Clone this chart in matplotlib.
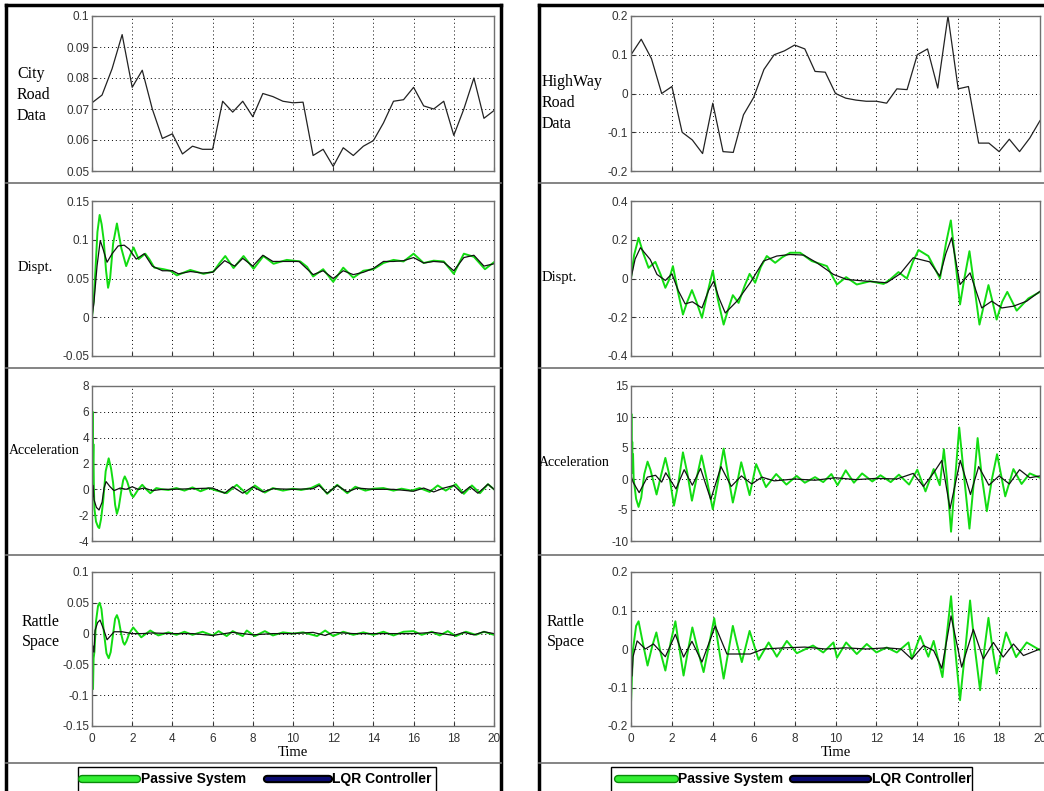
import numpy as np
import matplotlib
matplotlib.use("Agg")
import matplotlib.pyplot as plt
from matplotlib.lines import Line2D
from matplotlib.patches import Rectangle
from matplotlib.ticker import FuncFormatter

W, H = 1044, 791

# ---- road profiles (sampled every 0.5 s) ----
road_t = np.arange(0, 20.5, 0.5)
city_road = [0.072, 0.0745, 0.083, 0.094, 0.077, 0.0825, 0.070, 0.0605, 0.062, 0.0555,
             0.058, 0.057, 0.057, 0.0725, 0.069, 0.0725, 0.0675, 0.075, 0.074, 0.0725,
             0.072, 0.0722, 0.055, 0.057, 0.0515, 0.0575, 0.055, 0.058, 0.0598, 0.0655,
             0.0725, 0.073, 0.077, 0.071, 0.070, 0.0725, 0.0615, 0.070, 0.080, 0.067, 0.0695]
highway_road = [0.10, 0.14, 0.09, 0.0, 0.018, -0.10, -0.12, -0.155, -0.025, -0.15,
                -0.152, -0.055, -0.01, 0.062, 0.10, 0.11, 0.125, 0.115, 0.057, 0.055,
                0.0, -0.012, -0.017, -0.02, -0.02, -0.025, 0.012, 0.01, 0.10, 0.115,
                0.014, 0.20, 0.012, 0.018, -0.128, -0.128, -0.15, -0.118, -0.15, -0.115, -0.07]

# ---- city responses: (time, value) ----
city_disp_passive = [(0, 0), (0.08, 0.02), (0.17, 0.06), (0.27, 0.11), (0.38, 0.132), (0.48, 0.12),
                     (0.58, 0.10), (0.7, 0.06), (0.8, 0.038), (0.9, 0.05), (1.05, 0.095), (1.24, 0.121),
                     (1.46, 0.089), (1.7, 0.066), (1.9, 0.08), (2.07, 0.09), (2.32, 0.075), (2.65, 0.082),
                     (2.85, 0.075), (3.1, 0.064), (3.56, 0.062), (3.9, 0.06), (4.22, 0.054), (4.6, 0.058),
                     (4.89, 0.061), (5.55, 0.056), (6.05, 0.059), (6.35, 0.07), (6.63, 0.079), (7.04, 0.0635),
                     (7.54, 0.079), (8.04, 0.0625), (8.53, 0.079), (9.03, 0.069), (9.69, 0.074), (10.36, 0.072),
                     (10.7, 0.065), (11.0, 0.0526), (11.5, 0.062), (12.0, 0.0457), (12.5, 0.064), (13.0, 0.051),
                     (13.5, 0.06), (14.0, 0.062), (14.5, 0.07), (15.0, 0.074), (15.5, 0.072), (16.0, 0.082),
                     (16.5, 0.07), (17.0, 0.073), (17.5, 0.072), (18.0, 0.056), (18.5, 0.082), (19.0, 0.078),
                     (19.55, 0.062), (20, 0.071)]
city_disp_lqr = [(0, 0), (0.1, 0.02), (0.25, 0.066), (0.41, 0.099), (0.55, 0.088), (0.75, 0.071),
                 (1.0, 0.082), (1.3, 0.092), (1.6, 0.093), (1.85, 0.088), (2.2, 0.075), (2.6, 0.082),
                 (3.0, 0.066), (3.5, 0.06), (4.0, 0.06), (4.3, 0.056), (4.9, 0.059), (5.5, 0.057),
                 (6.0, 0.058), (6.6, 0.073), (7.1, 0.066), (7.5, 0.076), (8.0, 0.066), (8.5, 0.08),
                 (9.0, 0.072), (10.3, 0.072), (11.0, 0.055), (11.5, 0.06), (12.0, 0.05), (12.5, 0.06),
                 (13.0, 0.055), (13.5, 0.058), (14.0, 0.063), (14.5, 0.072), (15.0, 0.072), (15.5, 0.073),
                 (16.0, 0.077), (16.5, 0.07), (17.0, 0.072), (17.5, 0.071), (18.0, 0.06), (18.5, 0.077),
                 (19.0, 0.08), (19.5, 0.066), (20, 0.069)]
city_acc_passive = [(0, 7.8), (0.01, 3), (0.03, 6), (0.05, 2), (0.07, 3.5), (0.09, 0.5), (0.12, -1.5),
                    (0.2, -2.5), (0.3, -2.9), (0.36, -3.0), (0.45, -2.3), (0.55, -1.0), (0.68, 1.4),
                    (0.83, 2.4), (0.95, 1.6), (1.05, 0.5), (1.15, -1.2), (1.24, -1.9), (1.33, -1.4),
                    (1.45, -0.2), (1.55, 0.7), (1.63, 1.0), (1.75, 0.6), (1.85, 0.1), (1.95, -0.4),
                    (2.05, -0.6), (2.18, -0.3), (2.3, 0.0), (2.5, 0.35), (2.7, 0.0), (2.9, -0.3),
                    (3.2, 0.1), (3.5, 0.0), (3.8, -0.05), (4.2, 0.1), (4.6, -0.1), (5.0, 0.15), (5.4, -0.15),
                    (5.8, 0.1), (6.2, -0.1), (6.7, -0.3), (7.2, 0.35), (7.7, -0.35), (8.1, 0.3),
                    (8.6, -0.25), (9.0, 0.1), (9.5, -0.1), (10.0, 0.05), (10.4, -0.05), (10.9, 0.1),
                    (11.3, 0.4), (11.7, -0.35), (12.2, 0.35), (12.7, -0.3), (13.1, 0.2), (13.6, -0.1),
                    (14.0, 0.05), (14.5, 0.1), (15.0, -0.1), (15.4, 0.05), (15.9, -0.1), (16.3, 0.1),
                    (16.8, -0.2), (17.2, 0.3), (17.6, -0.1), (18.1, 0.4), (18.5, -0.35), (18.9, 0.3),
                    (19.3, -0.3), (19.7, 0.4), (20, 0.0)]
city_acc_lqr = [(0, 0), (0.03, -0.6), (0.06, 0.3), (0.1, -0.8), (0.22, -1.4), (0.35, -1.6), (0.5, -1.0),
                (0.6, 0.1), (0.7, 0.6), (0.9, 0.2), (1.1, -0.1), (1.4, 0.1), (1.7, 0.0), (2.0, 0.2),
                (2.3, 0.0), (2.6, 0.1), (3.0, -0.1), (3.5, 0.0), (4.0, 0.0), (5.0, 0.05), (6.0, 0.1),
                (6.6, -0.3), (7.0, 0.2), (7.5, -0.3), (8.0, 0.2), (8.5, -0.2), (9.0, 0.05), (10.0, 0.0),
                (11.0, 0.05), (11.3, 0.3), (11.7, -0.3), (12.2, 0.3), (12.7, -0.2), (13.2, 0.1),
                (14.0, 0.0), (15.0, 0.0), (16.0, -0.15), (16.5, 0.1), (17.0, -0.2), (17.5, 0.1),
                (18.0, 0.3), (18.4, -0.3), (18.8, 0.2), (19.2, -0.3), (19.7, 0.4), (20, 0.0)]
city_rattle_passive = [(0, -0.1), (0.02, -0.06), (0.05, -0.09), (0.08, -0.04), (0.12, -0.03), (0.2, 0.02),
                       (0.3, 0.045), (0.38, 0.05), (0.47, 0.04), (0.6, 0.0), (0.72, -0.032), (0.83, -0.04),
                       (0.93, -0.03), (1.05, 0.0), (1.15, 0.024), (1.24, 0.03), (1.33, 0.022), (1.45, 0.0),
                       (1.55, -0.014), (1.62, -0.018), (1.72, -0.012), (1.85, 0.0), (2.05, 0.01),
                       (2.45, -0.006), (2.9, 0.005), (3.3, -0.003), (3.8, 0.002), (4.2, -0.002),
                       (4.6, 0.003), (5.0, -0.002), (5.5, 0.003), (6.0, -0.003), (6.3, 0.004), (6.7, -0.004),
                       (7.0, 0.004), (7.5, -0.004), (7.7, 0.005), (8.1, -0.004), (8.6, 0.004), (9.0, -0.003),
                       (9.5, 0.002), (10.0, 0.0), (10.5, 0.002), (11.2, -0.004), (11.6, 0.005),
                       (12.0, -0.004), (12.5, 0.003), (13.0, -0.002), (13.5, 0.002), (14.0, -0.002),
                       (14.5, 0.003), (15.0, -0.003), (15.5, 0.003), (16.0, 0.004), (16.4, -0.002),
                       (16.9, 0.003), (17.3, -0.003), (17.7, 0.004), (18.1, -0.004), (18.6, 0.003),
                       (19.1, -0.002), (19.5, 0.003), (20, -0.002)]
city_rattle_lqr = [(0, -0.05), (0.05, -0.02), (0.1, -0.03), (0.15, 0.005), (0.28, 0.018), (0.4, 0.022),
                   (0.6, 0.005), (0.75, -0.01), (1.1, 0.003), (1.5, 0.003), (2.0, 0.0), (2.5, 0.0),
                   (3.0, 0.001), (4, 0), (5, 0), (6.0, -0.003), (7.0, 0.002), (8.0, -0.002), (9.0, 0.0),
                   (10.0, 0.0), (11.0, 0.002), (11.6, -0.003), (12.0, 0.002), (13.0, 0.0), (14.0, 0.0),
                   (15.0, 0.0), (16.0, 0.0), (17.0, 0.002), (18.0, -0.003), (18.5, 0.002), (19.0, -0.002),
                   (19.5, 0.003), (20, 0.0)]

# ---- highway responses ----
hw_disp_passive = [(0, 0), (0.15, 0.12), (0.37, 0.21), (0.6, 0.13), (0.86, 0.055), (1.19, 0.086),
                   (1.45, 0.02), (1.68, -0.048), (1.85, -0.01), (2.05, 0.064), (2.3, -0.07),
                   (2.54, -0.186), (2.75, -0.12), (2.98, -0.06), (3.2, -0.12), (3.47, -0.203),
                   (3.75, -0.07), (4.0, 0.041), (4.25, -0.11), (4.53, -0.238), (4.75, -0.16),
                   (4.98, -0.086), (5.26, -0.126), (5.55, -0.04), (5.8, 0.024), (6.07, -0.022),
                   (6.35, 0.06), (6.64, 0.116), (7.05, 0.081), (7.4, 0.11), (7.78, 0.133), (8.27, 0.133),
                   (8.84, 0.09), (9.58, 0.064), (10.07, -0.031), (10.52, 0.007), (11.04, -0.031),
                   (11.7, -0.014), (12.35, -0.028), (12.67, -0.005), (13.08, 0.033), (13.49, 0.0),
                   (13.8, 0.09), (14.06, 0.147), (14.54, 0.116), (15.11, 0.0), (15.4, 0.18), (15.64, 0.30),
                   (15.85, 0.1), (16.09, -0.134), (16.3, 0.0), (16.55, 0.141), (16.8, -0.05),
                   (17.04, -0.238), (17.25, -0.14), (17.48, -0.034), (17.68, -0.12), (17.88, -0.212),
                   (18.15, -0.12), (18.4, -0.069), (18.86, -0.166), (19.43, -0.103), (20, -0.069)]
hw_disp_lqr = [(0, 0), (0.2, 0.1), (0.46, 0.159), (0.94, 0.098), (1.27, 0.021), (1.68, -0.01), (2.0, 0.024),
               (2.3, -0.06), (2.65, -0.131), (3.0, -0.12), (3.47, -0.152), (3.8, -0.06), (4.04, -0.014),
               (4.3, -0.1), (4.61, -0.178), (5.18, -0.117), (5.83, -0.022), (6.48, 0.09), (7.13, 0.116),
               (7.78, 0.124), (8.44, 0.121), (9.09, 0.081), (9.9, 0.021), (10.55, -0.005),
               (11.53, -0.014), (12.5, -0.022), (13.16, 0.024), (13.8, 0.107), (14.6, 0.086),
               (15.1, 0.012), (15.4, 0.13), (15.68, 0.21), (15.9, 0.08), (16.09, -0.031),
               (16.58, 0.029), (17.15, -0.152), (17.64, -0.117), (18.13, -0.152), (18.7, -0.143),
               (19.35, -0.117), (20, -0.066)]
hw_acc_passive = [(0, 0.5), (0.02, 10.5), (0.04, 2), (0.06, 6), (0.08, 1), (0.1, 4), (0.13, 0),
                  (0.25, -3.2), (0.37, -4.5), (0.5, -3.0), (0.65, 0.8), (0.81, 2.8), (0.95, 1.5),
                  (1.25, -2.5), (1.5, 1.0), (1.68, 3.4), (1.85, 1.0), (2.1, -4.3), (2.3, -1.0),
                  (2.54, 4.3), (2.75, 1.0), (2.98, -3.5), (3.2, 0.0), (3.45, 3.8), (3.7, 0.0),
                  (4.0, -4.9), (4.25, -0.5), (4.53, 4.9), (4.75, 0.5), (4.98, -3.8), (5.2, -0.5),
                  (5.39, 2.7), (5.6, 0.0), (5.8, -2.6), (6.12, 2.4), (6.6, -1.3), (7.1, 0.8),
                  (7.6, -0.9), (8.1, 0.5), (8.5, -0.6), (9.0, 0.3), (9.4, -0.5), (9.8, 0.8),
                  (10.1, -1.0), (10.5, 1.4), (10.9, -0.6), (11.3, 0.9), (11.8, -0.4), (12.2, 0.6),
                  (12.7, -0.5), (13.1, 0.7), (13.6, -0.9), (14.0, 1.5), (14.4, -2.0), (14.8, 1.6),
                  (15.1, -1.0), (15.3, 4.8), (15.45, 0.0), (15.65, -8.5), (15.85, 0.0), (16.05, 8.3),
                  (16.3, 0.0), (16.55, -8.0), (16.75, -1.0), (16.95, 6.6), (17.15, 0.5), (17.4, -5.2),
                  (17.65, 0.0), (17.9, 4.0), (18.3, -2.8), (18.7, 1.6), (19.1, -0.8), (19.5, 0.9),
                  (20, 0.2)]
hw_acc_lqr = [(0, 0.5), (0.1, -0.5), (0.4, -2.2), (0.8, 0.3), (1.2, 0.6), (1.5, -0.5), (1.7, 1.0),
              (2.2, -1.6), (2.6, 1.5), (3.0, -1.0), (3.4, 1.7), (3.9, -3.3), (4.4, 2.0), (4.9, -1.2),
              (5.4, 0.5), (5.9, -0.8), (6.4, 0.3), (7.0, -0.3), (8.0, 0.0), (9.0, -0.2), (10.0, 0.2),
              (11.0, -0.1), (12.0, 0.1), (13.0, 0.0), (13.8, 0.9), (14.3, -1.2), (14.8, 1.0),
              (15.2, 3.0), (15.6, -4.8), (16.1, 3.0), (16.6, -2.5), (17.0, 2.0), (17.5, -1.0),
              (18.0, 0.5), (18.5, -0.8), (19.0, 1.5), (19.5, 0.2), (20, 0.5)]
hw_rattle_passive = [(0, -0.14), (0.1, 0.0), (0.25, 0.06), (0.37, 0.072), (0.6, 0.01), (0.81, -0.043),
                     (1.05, 0.01), (1.24, 0.043), (1.45, -0.01), (1.68, -0.056), (1.95, 0.02),
                     (2.17, 0.072), (2.37, 0.0), (2.57, -0.069), (2.8, 0.0), (3.0, 0.056), (3.3, -0.01),
                     (3.55, -0.06), (3.85, 0.02), (4.07, 0.08), (4.3, 0.0), (4.53, -0.077), (4.75, -0.01),
                     (4.98, 0.06), (5.2, 0.01), (5.42, -0.034), (5.8, 0.047), (6.24, -0.028),
                     (6.73, 0.017), (7.13, -0.02), (7.62, 0.021), (8.11, -0.011), (8.9, 0.009),
                     (9.4, -0.009), (9.9, 0.017), (10.07, -0.023), (10.52, 0.017), (11.04, -0.013),
                     (11.53, 0.013), (12.0, -0.009), (12.5, 0.004), (13.0, -0.009), (13.57, 0.017),
                     (13.73, -0.026), (14.14, 0.034), (14.54, -0.02), (14.8, 0.021), (15.23, -0.073),
                     (15.45, 0.04), (15.65, 0.137), (15.85, 0.0), (16.09, -0.133), (16.35, 0.0),
                     (16.58, 0.126), (16.82, 0.0), (17.07, -0.107), (17.28, 0.0), (17.48, 0.081),
                     (17.68, 0.0), (17.88, -0.064), (18.34, 0.043), (18.83, -0.021), (19.35, 0.017),
                     (20, -0.003)]
hw_rattle_lqr = [(0, -0.056), (0.05, -0.07), (0.1, -0.02), (0.3, 0.021), (0.7, 0.0), (1.1, 0.013),
                 (1.68, -0.02), (2.17, 0.038), (2.57, -0.021), (2.98, 0.02), (3.47, -0.034),
                 (4.12, 0.06), (4.69, -0.013), (5.18, -0.013), (5.83, -0.013), (6.48, 0.0),
                 (7.5, 0.003), (8.5, 0.005), (9.5, 0.0), (10.5, 0.003), (11.5, 0.0), (12.5, 0.003),
                 (13.2, 0.0), (13.73, -0.026), (14.3, 0.009), (14.8, -0.004), (15.2, -0.05),
                 (15.65, 0.086), (16.17, -0.047), (16.74, 0.051), (17.23, -0.026), (17.72, 0.017),
                 (18.2, -0.021), (18.7, 0.013), (19.19, -0.017), (20, 0.0)]

# ---- axis limits / ticks per row ----
city_ylims = [(0.05, 0.1), (-0.05, 0.15), (-4, 8), (-0.15, 0.1)]
city_yticks = [np.arange(0.05, 0.101, 0.01), np.arange(-0.05, 0.151, 0.05),
               np.arange(-4, 8.1, 2), np.arange(-0.15, 0.101, 0.05)]
hw_ylims = [(-0.2, 0.2), (-0.4, 0.4), (-10, 15), (-0.2, 0.2)]
hw_yticks = [np.arange(-0.2, 0.21, 0.1), np.arange(-0.4, 0.41, 0.2),
             np.arange(-10, 15.1, 5), np.arange(-0.2, 0.21, 0.1)]
city_labels = ["City\nRoad\nData", "Dispt.", "Acceleration", "Rattle\nSpace"]
hw_labels = ["HighWay\nRoad\nData", "Dispt.", "Acceleration", "Rattle\nSpace"]
# (left edge x, centre y, font size) of each row label, in pixels
city_label_pos = [(17, 95, 11.5), (18, 268, 10.5), (9, 450, 10), (22, 632, 11.5)]
hw_label_pos = [(542, 103, 11.5), (542, 277, 10.5), (539, 463, 10), (547, 632, 11.5)]
xticks = np.arange(0, 21, 2)

GREEN = "#12dc12"
DARK = "#111111"
SERIF = "Liberation Serif"
SANS = "Liberation Sans"

fig = plt.figure(figsize=(W / 100, H / 100), dpi=100)
fig.patch.set_facecolor("white")


def rect(x0, y0, x1, y1):
    return [x0 / W, 1 - y1 / H, (x1 - x0) / W, (y1 - y0) / H]


def fx(x):
    return x / W


def fy(y):
    return 1 - y / H


def fmt(v, pos):
    return "%g" % round(v, 4)


rows = [(16, 171), (201, 356), (386, 541), (572, 726)]


def make_col(x0, x1, ylims, yticks, labels, label_pos, series):
    axes = []
    for i, (y0, y1) in enumerate(rows):
        ax = fig.add_axes(rect(x0, y0, x1, y1))
        ax.set_xlim(0, 20)
        ax.set_ylim(*ylims[i])
        ax.set_xticks(xticks)
        ax.set_yticks(yticks[i])
        ax.yaxis.set_major_formatter(FuncFormatter(fmt))
        ax.grid(True, linestyle=(0, (1, 3)), color="black", linewidth=0.7)
        ax.tick_params(direction="in", length=3, labelsize=8.5, colors="#333333")
        ax.tick_params(axis="x", pad=5)
        ax.tick_params(axis="y", pad=2)
        for lab in ax.get_xticklabels() + ax.get_yticklabels():
            lab.set_fontfamily(SANS)
        for sp in ax.spines.values():
            sp.set_color("#707070")
            sp.set_linewidth(1.0)
        if i < 3:
            ax.set_xticklabels([])
        else:
            ax.set_xlabel("Time", fontfamily=SERIF, fontsize=10.5, labelpad=1)
        lx, ly, fs = label_pos[i]
        fig.text(fx(lx), fy(ly), labels[i], ha="left", va="center", multialignment="left",
                 fontfamily=SERIF, fontsize=fs, linespacing=1.38)
        axes.append(ax)

    axes[0].plot(road_t, series[0], color="#222222", lw=0.9)
    for ax, (pas, lqr) in zip(axes[1:], series[1:]):
        p = np.array(pas).T
        q = np.array(lqr).T
        ax.plot(p[0], p[1], color=GREEN, lw=1.4, solid_joinstyle="round")
        ax.plot(q[0], q[1], color=DARK, lw=0.9, solid_joinstyle="round")
    return axes


make_col(92, 494, city_ylims, city_yticks, city_labels, city_label_pos,
         [city_road,
          (city_disp_passive, city_disp_lqr),
          (city_acc_passive, city_acc_lqr),
          (city_rattle_passive, city_rattle_lqr)])
make_col(631, 1040, hw_ylims, hw_yticks, hw_labels, hw_label_pos,
         [highway_road,
          (hw_disp_passive, hw_disp_lqr),
          (hw_acc_passive, hw_acc_lqr),
          (hw_rattle_passive, hw_rattle_lqr)])


# ---- frames and separators ----
def fline(xs, ys, **kw):
    fig.add_artist(Line2D([fx(x) for x in xs], [fy(y) for y in ys], **kw))


fline([6, 6], [5, 791], color="black", lw=2.5)
fline([6, 501], [5, 5], color="black", lw=2.5)
fline([501, 501], [5, 791], color="black", lw=2.5)
fline([539, 539], [5, 791], color="black", lw=2.5)
fline([539, 1044], [5, 5], color="black", lw=2.5)
for y in [183, 368, 555, 763]:
    fline([6, 501], [y, y], color="#707070", lw=1.2)
    fline([539, 1044], [y, y], color="#707070", lw=1.2)


# ---- legends ----
def legend_box(x0, x1, s1, s2, t1, s3, s4, t2):
    fig.add_artist(Rectangle((fx(x0), fy(795)), fx(x1 - x0), fy(767) - fy(795),
                             transform=fig.transFigure, fill=False, edgecolor="black", lw=1.0))
    fline([s1, s2], [779, 779], color="#0a8a0a", lw=6, solid_capstyle="round")
    fline([s1, s2], [779, 779], color="#33ee33", lw=4, solid_capstyle="round")
    fig.text(fx(t1), fy(779), "Passive System", ha="left", va="center",
             fontfamily=SANS, fontweight="bold", fontsize=10)
    fline([s3, s4], [779, 779], color="black", lw=6, solid_capstyle="round")
    fline([s3, s4], [779, 779], color="#0a0a70", lw=3, solid_capstyle="round")
    fig.text(fx(t2), fy(779), "LQR Controller", ha="left", va="center",
             fontfamily=SANS, fontweight="bold", fontsize=10)


legend_box(78, 436, 82, 137, 141, 267, 329, 332)
legend_box(611, 972, 618, 675, 678, 793, 868, 872)

fig.savefig("out.png", dpi=100, facecolor="white")
